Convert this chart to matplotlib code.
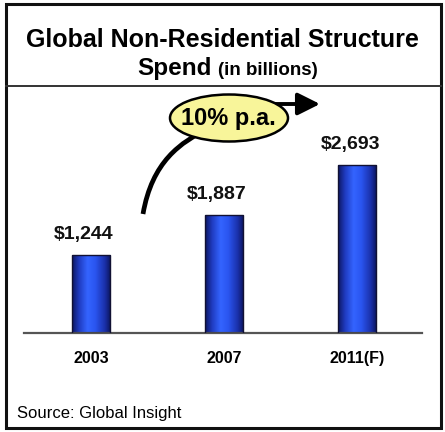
import numpy as np
import matplotlib
matplotlib.use("Agg")
import matplotlib.pyplot as plt
from matplotlib.patches import Rectangle, Ellipse, FancyArrowPatch, PathPatch
from matplotlib.path import Path
from matplotlib.colors import LinearSegmentedColormap

plt.rcParams["font.family"] = ["Liberation Sans", "DejaVu Sans"]

# Data
years = ["2003", "2007", "2011(F)"]
spend = [1244, 1887, 2693]
value_labels = ["$1,244", "$1,887", "$2,693"]
growth_label = "10% p.a."
title_line1 = "Global Non-Residential Structure"
title_line2_main = "Spend"
title_line2_unit = "(in billions)"
source_note = "Source: Global Insight"

W, H = 445, 432
fig = plt.figure(figsize=(W / 100, H / 100), dpi=100)
fig.patch.set_facecolor("white")

# Overlay in pixel coordinates (y grows downward) for the frame and annotations
ov = fig.add_axes([0, 0, 1, 1], zorder=3)
ov.set_xlim(0, W)
ov.set_ylim(H, 0)
ov.axis("off")
ov.patch.set_alpha(0)

# Chart axes for the bars
x0, x1 = 24, 422
ybase, ytop = 333, 90
ax = fig.add_axes([x0 / W, (H - ybase) / H, (x1 - x0) / W, (ybase - ytop) / H], zorder=2)
ax.patch.set_alpha(0)
spacing = 133.0
xs = np.arange(len(years))
ax.set_xlim(-(91 - x0) / spacing, 2 + (x1 - 357) / spacing)
px_per_unit = 168 / 2693
ax.set_ylim(0, (ybase - ytop) / px_per_unit)
for s in ax.spines.values():
    s.set_visible(False)
ax.spines["bottom"].set_visible(True)
ax.spines["bottom"].set_color("#555555")
ax.spines["bottom"].set_linewidth(1.6)
ax.set_yticks([])
ax.set_xticks(xs)
ax.set_xticklabels(years, fontsize=11.5, fontweight="bold")
ax.tick_params(axis="x", length=0, pad=13)

bar_w = 0.29
grad_cmap = LinearSegmentedColormap.from_list(
    "barblue",
    [(0.0, "#0c1660"), (0.18, "#1f3bc0"), (0.4, "#3464ff"),
     (0.6, "#2a55f0"), (0.85, "#1a2fa8"), (1.0, "#0a1258")])
grad = np.linspace(0, 1, 256).reshape(1, -1)
bars = ax.bar(xs, spend, width=bar_w, color="none", edgecolor="#111133", linewidth=1.0, zorder=3)
for b in bars:
    bx, by = b.get_x(), b.get_y()
    bw, bh = b.get_width(), b.get_height()
    im = ax.imshow(grad, cmap=grad_cmap, aspect="auto",
                   extent=(bx, bx + bw, by, by + bh), zorder=2, interpolation="bicubic")
    im.set_clip_path(b)

for xi, v, lab in zip(xs, spend, value_labels):
    ax.annotate(lab, (xi, v), xytext=(-5, 9), textcoords="offset points",
                ha="center", va="bottom", fontsize=14, fontweight="bold", color="#111111")

# Outer frame and title divider
ov.add_patch(Rectangle((6, 4), 435, 424, fill=False, edgecolor="#111111", linewidth=2.2))
ov.plot([6, 441], [86, 86], color="#333333", linewidth=1.4)

ov.text(222, 47, title_line1, ha="center", va="baseline", fontsize=18, fontweight="bold")
ov.text(212, 75, title_line2_main, ha="right", va="baseline", fontsize=17.5, fontweight="bold")
ov.text(218, 75, title_line2_unit, ha="left", va="baseline", fontsize=13.5, fontweight="bold")

ov.text(17, 418, source_note, ha="left", va="baseline", fontsize=12)

# Growth arrow: curve rising to the bubble, then pointing right
curve = Path([(143, 214), (152, 162), (180, 142), (210, 128)],
             [Path.MOVETO, Path.CURVE4, Path.CURVE4, Path.CURVE4])
ov.add_patch(PathPatch(curve, fill=False, edgecolor="black", linewidth=3.4, capstyle="butt"))
ov.add_patch(FancyArrowPatch((270, 104), (320, 104), arrowstyle="-|>,head_length=9,head_width=4.5",
                             color="black", linewidth=2.8, mutation_scale=1.5, shrinkA=0, shrinkB=0))
ov.add_patch(Ellipse((229, 118), 118, 47, facecolor="#f8f59a", edgecolor="black", linewidth=1.8, zorder=4))
ov.text(228, 119, growth_label, ha="center", va="center", fontsize=17, fontweight="bold", zorder=5)

fig.savefig("out.png", dpi=100, facecolor="white")
